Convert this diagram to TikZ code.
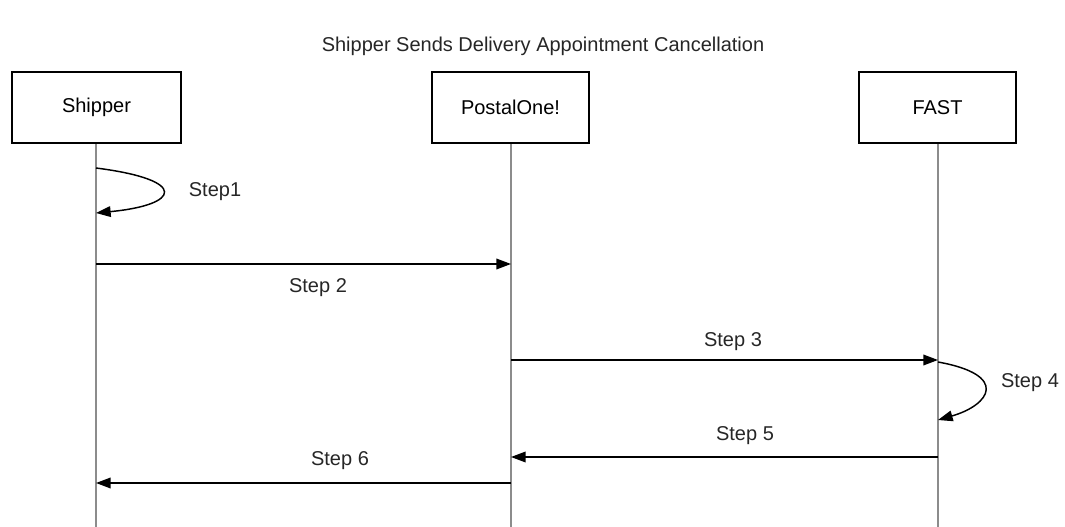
\documentclass[tikz,border=0pt]{standalone}
\usepackage{fontspec}
\setmainfont{Liberation Sans}
\usetikzlibrary{arrows.meta}
\begin{document}
\begin{tikzpicture}[x=0.75pt,y=-0.75pt,
  actor/.style={draw=black,line width=1.2pt,minimum width=117.75pt,minimum height=53pt,inner sep=0pt,font=\fontsize{15}{18}\selectfont,fill=white},
  life/.style={draw=black!45,line width=1.5pt},
  msg/.style={draw=black,line width=1.1pt,-{Triangle[length=11pt,width=8pt]}},
  lbl/.style={font=\fontsize{15}{18}\selectfont,inner sep=0pt,anchor=base,text=black!85}]
\useasboundingbox (0,0) rectangle (1065,527);
\node[lbl] (title) at (543,52) {Shipper Sends Delivery Appointment Cancellation};
\coordinate (sb) at (96,527);
\coordinate (pb) at (511,527);
\coordinate (fb) at (938,527);
\draw[life] (96,143) -- (sb);
\draw[life] (511,143) -- (pb);
\draw[life] (938,143) -- (fb);
\node[actor,minimum width=126.75pt] (ship) at (96.5,107.5) {Shipper};
\node[actor] (post) at (510.5,107.5) {PostalOne!};
\node[actor] (fast) at (937.5,107.5) {FAST};
% step 1
\coordinate (s1a) at (96,168);
\coordinate (s1b) at (96,213);
\draw[msg] (s1a) .. controls (190,180) and (180,205) .. (s1b);
\node[lbl] (l1) at (215,197) {Step1};
% step 2
\coordinate (s2a) at (96,264);
\coordinate (s2b) at (511,264);
\draw[msg] (s2a) -- (s2b);
\node[lbl] (l2) at (318,293) {Step 2};
% step 3
\coordinate (s3a) at (511,360);
\coordinate (s3b) at (938,360);
\draw[msg] (s3a) -- (s3b);
\node[lbl] (l3) at (733,347) {Step 3};
% step 4
\coordinate (s4a) at (938,362);
\coordinate (s4b) at (938,420);
\draw[msg] (s4a) .. controls (1010,375) and (990,405) .. (s4b);
\node[lbl] (l4) at (1030,388) {Step 4};
% step 5
\coordinate (s5a) at (938,457);
\coordinate (s5b) at (511,457);
\draw[msg] (s5a) -- (s5b);
\node[lbl] (l5) at (745,441) {Step 5};
% step 6
\coordinate (s6a) at (511,483);
\coordinate (s6b) at (96,483);
\draw[msg] (s6a) -- (s6b);
\node[lbl] (l6) at (340,465) {Step 6};
\end{tikzpicture}
\end{document}
